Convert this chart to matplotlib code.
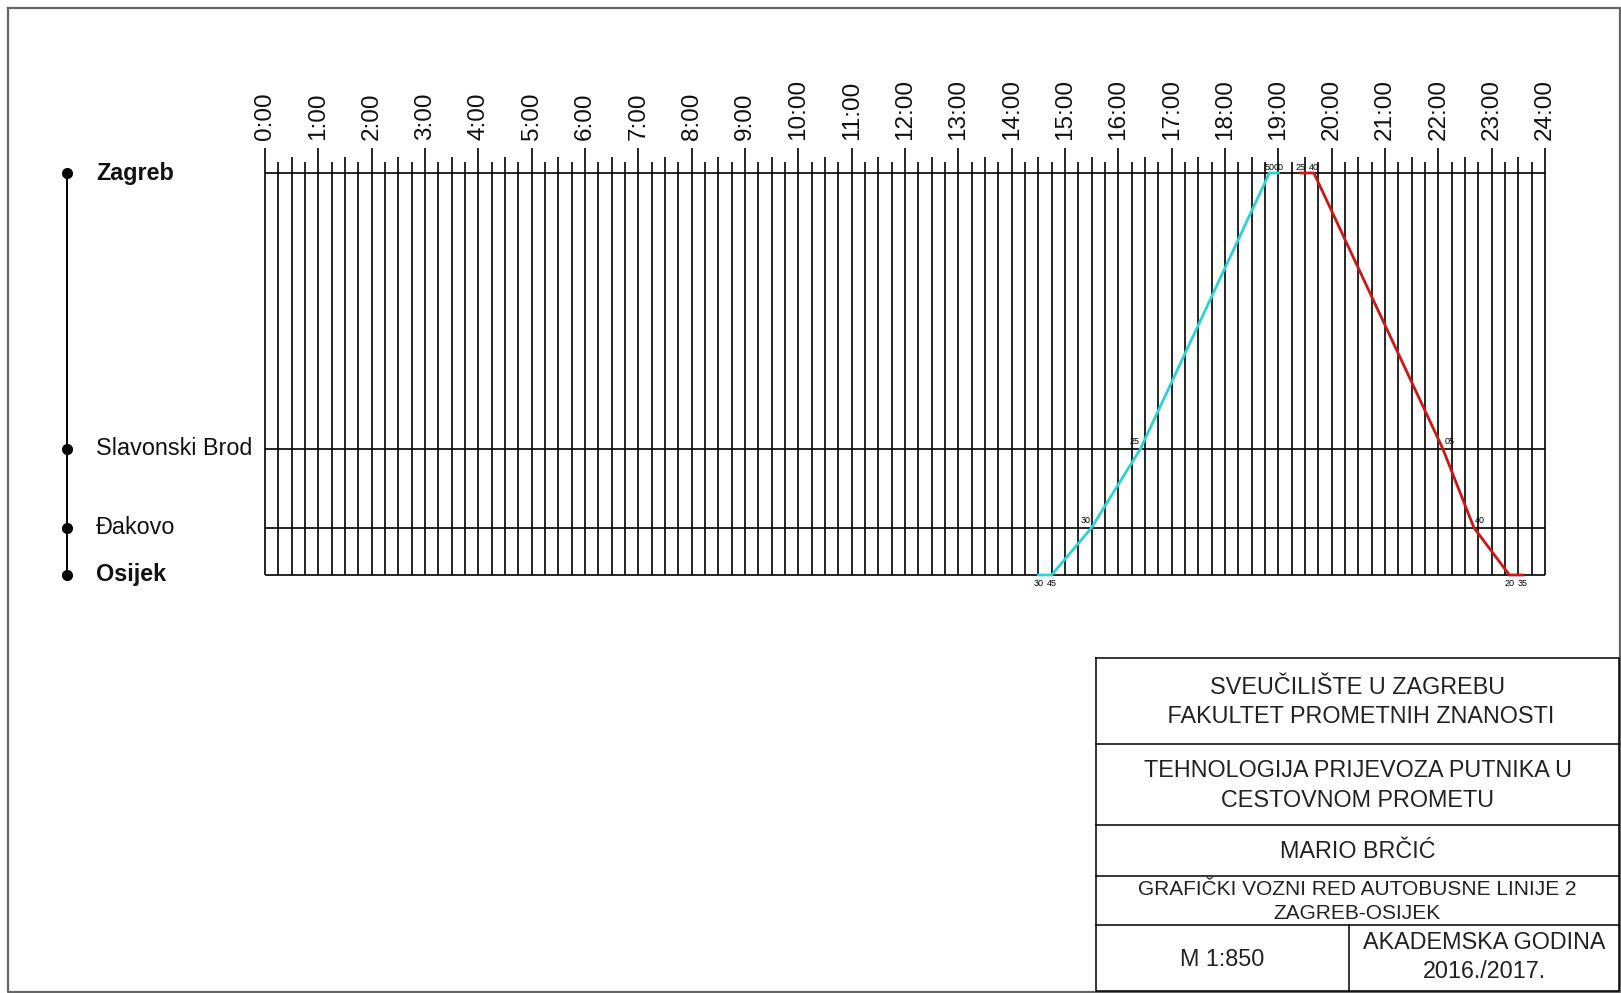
import matplotlib
matplotlib.use("Agg")
import matplotlib.pyplot as plt

plt.rcParams['font.family'] = ['Liberation Sans', 'DejaVu Sans']

# stations (km from Zagreb)
stations = ["Zagreb", "Slavonski Brod", "Đakovo", "Osijek"]
station_km = [0, 192, 247, 280]
station_bold = [True, False, False, True]

hours = list(range(25))

# bus 1: Osijek -> Zagreb (times as h, min)
up_times = [(14, 30), (14, 45), (15, 30), (16, 25), (18, 50), (19, 0)]
up_km = [280, 280, 247, 192, 0, 0]
# bus 2: Zagreb -> Osijek
down_times = [(19, 25), (19, 40), (22, 5), (22, 40), (23, 20), (23, 35)]
down_km = [0, 0, 192, 247, 280, 280]

title_rows = [
    "SVEUČILIŠTE U ZAGREBU\n FAKULTET PROMETNIH ZNANOSTI",
    "TEHNOLOGIJA PRIJEVOZA PUTNIKA U\nCESTOVNOM PROMETU",
    "MARIO BRČIĆ",
    "GRAFIČKI VOZNI RED AUTOBUSNE LINIJE 2\nZAGREB-OSIJEK",
]
scale_text = "M 1:850"
year_text = "AKADEMSKA GODINA\n2016./2017."

W, H = 1621, 993
fig = plt.figure(figsize=(W / 100, H / 100), dpi=100)

# decoration layer in pixel units
deco = fig.add_axes([0, 0, 1, 1])
deco.set_xlim(0, W)
deco.set_ylim(H, 0)
deco.axis("off")
deco.plot([8, 1620, 1620, 8, 8], [8, 8, 992, 992, 8], color="#666666", lw=1.6)

# title block
bx0, bx1 = 1096, 1619
rows = [658, 744, 825, 876, 925, 991]
deco.plot([bx0, bx1, bx1, bx0, bx0], [rows[0], rows[0], rows[-1], rows[-1], rows[0]],
          color="black", lw=1.1)
for r in rows[1:-1]:
    deco.plot([bx0, bx1], [r, r], color="black", lw=1.1)
deco.plot([1349, 1349], [rows[4], rows[5]], color="black", lw=1.1)
sizes = [16.8, 16.8, 16.8, 15]
spacing = [1.35, 1.35, 1.2, 1.3]
for i, txt in enumerate(title_rows):
    deco.text((bx0 + bx1) / 2, (rows[i] + rows[i + 1]) / 2 + 1, txt, ha="center",
              va="center", fontsize=sizes[i], color="#222222", linespacing=spacing[i])
deco.text((bx0 + 1349) / 2, (rows[4] + rows[5]) / 2 + 1, scale_text, ha="center",
          va="center", fontsize=16.8, color="#222222")
deco.text((1349 + bx1) / 2, (rows[4] + rows[5]) / 2 - 1, year_text, ha="center",
          va="center", fontsize=16.8, color="#222222", linespacing=1.3)

# main diagram
ax = fig.add_axes([265 / W, 1 - 575 / H, 1280 / W, 402 / H])
ax.set_xlim(0, 24)
ax.set_ylim(280, 0)
ax.axis("off")

lw = 1.2
quarters = [q / 4 for q in range(97)]
tick_len = []
for q in range(97):
    if q % 4 == 0:
        tick_len.append(17.5)
    elif q % 2 == 0:
        tick_len.append(11)
    else:
        tick_len.append(7.5)
vl = ax.vlines(quarters, [-t for t in tick_len], station_km[-1], color="black", lw=lw)
vl.set_clip_on(False)
hl = ax.hlines(station_km, 0, 24, color="black", lw=lw)
hl.set_clip_on(False)

for h in hours:
    ax.text(h, -23, f"{h}:00", rotation=90, ha="center", va="bottom",
            fontsize=17.5, color="#111111")

# station axis on the left
axis_x = -3.71
ax.plot([axis_x, axis_x], [station_km[0], station_km[-1]], color="black", lw=1.4,
        clip_on=False)
ax.plot([axis_x] * len(station_km), station_km, "o", color="black", ms=7,
        clip_on=False)
for name, km, bold in zip(stations, station_km, station_bold):
    ax.text(-3.17, km, name, ha="left", va="center", fontsize=16.8,
            fontweight="bold" if bold else "normal", color="#111111")


def to_h(t):
    return t[0] + t[1] / 60


def draw_bus(times, kms, color, side):
    xs = [to_h(t) for t in times]
    ax.plot(xs, kms, color=color, lw=2, clip_on=False, zorder=3)
    for x, km, t in zip(xs, kms, times):
        lab = f"{t[1]:02d}"
        if km == station_km[-1]:
            ax.annotate(lab, (x, km), xytext=(0, -3), textcoords="offset points",
                        ha="center", va="top", fontsize=6.5)
        elif km == station_km[0]:
            ax.annotate(lab, (x, km), xytext=(0, 1), textcoords="offset points",
                        ha="center", va="bottom", fontsize=6.5)
        else:
            ax.annotate(lab, (x, km), xytext=(side * 1, 2), textcoords="offset points",
                        ha="left" if side > 0 else "right", va="bottom", fontsize=6.5)


draw_bus(up_times, up_km, "#2ad4d4", -1)
draw_bus(down_times, down_km, "#d01515", 1)

fig.savefig("out.png", dpi=100)
